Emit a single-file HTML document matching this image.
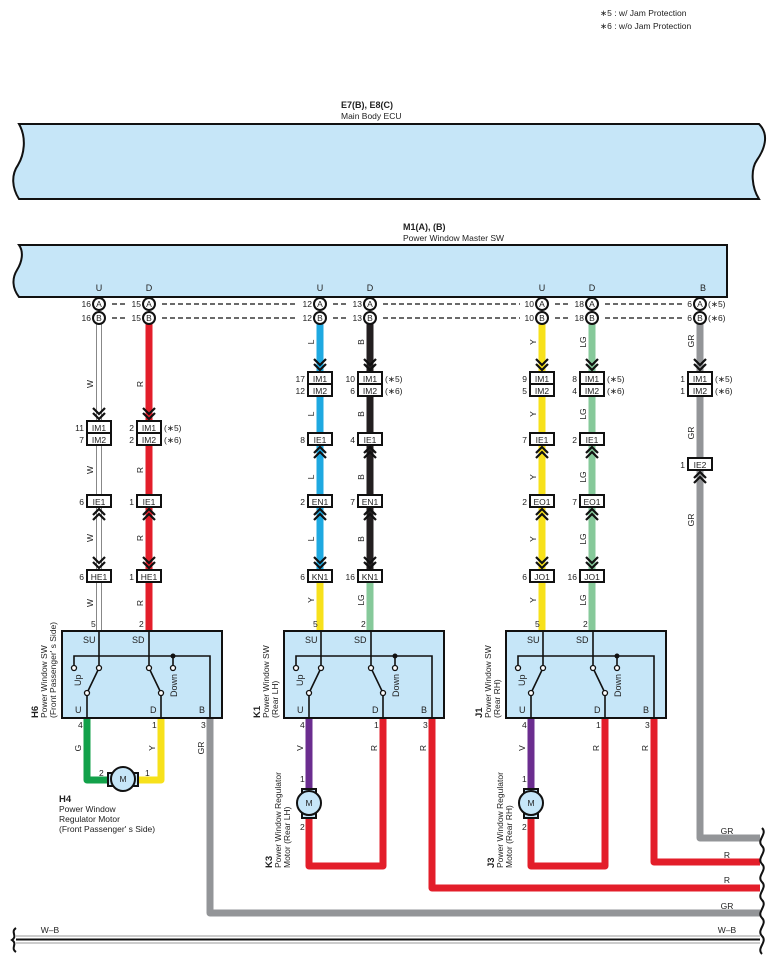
<!DOCTYPE html>
<html><head><meta charset="utf-8"><style>
body{margin:0;background:#fff}
svg{display:block;font-family:"Liberation Sans",sans-serif}
.t{font-size:9px;fill:#222}
.s{font-size:8.5px;fill:#222}
.cb{fill:#fff;stroke:#111;stroke-width:2}
.ch{fill:none;stroke:#111;stroke-width:2.2}
.ci{fill:#fff;stroke:#111;stroke-width:2}
.dash{stroke:#111;stroke-width:1.2;stroke-dasharray:5,3}
</style></head><body>
<svg width="774" height="960" viewBox="0 0 774 960" xmlns="http://www.w3.org/2000/svg">
<text x="600" y="16" class="s">∗5 : w/ Jam Protection</text>
<text x="600" y="29" class="s">∗6 : w/o Jam Protection</text>

<!-- ECU -->
<text x="341" y="108" class="t" font-weight="bold">E7(B), E8(C)</text>
<text x="341" y="119" class="s">Main Body ECU</text>
<path d="M19 124 H759 C770 135,764 150,757 160 C750 170,752 188,759 199 H19 C12 188,11 175,18 165 C24 155,27 138,19 124 Z" fill="#c6e6f8" stroke="#111" stroke-width="2"/>

<!-- Master SW -->
<text x="403" y="230" class="t" font-weight="bold">M1(A), (B)</text>
<text x="403" y="241" class="s">Power Window Master SW</text>
<path d="M19 245 H727 V297 H19 C12 288,12 278,17 270 C22 262,24 252,19 245 Z" fill="#c6e6f8" stroke="#111" stroke-width="2"/>
<g class="t" text-anchor="middle">
<text x="99" y="291">U</text><text x="149" y="291">D</text>
<text x="320" y="291">U</text><text x="370" y="291">D</text>
<text x="542" y="291">U</text><text x="592" y="291">D</text>
<text x="703" y="291">B</text>
</g>

<!-- WIRES -->
<g fill="none" stroke-linejoin="round" stroke-linecap="butt">
<path d="M99 318 V632" stroke="#888" stroke-width="6"/>
<path d="M99 318 V632" stroke="#fff" stroke-width="4"/>
<path d="M149 318 V632" stroke="#e31e2a" stroke-width="7"/>
<path d="M320 318 V576" stroke="#1ea9e1" stroke-width="7"/>
<path d="M320 576 V632" stroke="#f7e11b" stroke-width="7"/>
<path d="M370 318 V576" stroke="#231f20" stroke-width="7"/>
<path d="M370 576 V632" stroke="#86c99a" stroke-width="7"/>
<path d="M542 318 V632" stroke="#f7e11b" stroke-width="7"/>
<path d="M592 318 V632" stroke="#86c99a" stroke-width="7"/>
<path d="M700 318 V838 H760" stroke="#939598" stroke-width="7"/>
<path d="M87 718 V780 H112" stroke="#12a14a" stroke-width="7"/>
<path d="M161 718 V780 H135" stroke="#f7e11b" stroke-width="7"/>
<path d="M210 718 V913 H760" stroke="#939598" stroke-width="7"/>
<path d="M309 718 V792" stroke="#6b2d8f" stroke-width="7"/>
<path d="M309 814 V866 H383 V718" stroke="#e31e2a" stroke-width="7"/>
<path d="M432 718 V888 H760" stroke="#e31e2a" stroke-width="7"/>
<path d="M531 718 V792" stroke="#6b2d8f" stroke-width="7"/>
<path d="M531 814 V866 H605 V718" stroke="#e31e2a" stroke-width="7"/>
<path d="M654 718 V862 H760" stroke="#e31e2a" stroke-width="7"/>
</g>
<!-- W-B -->
<line x1="16" y1="936" x2="760" y2="936" stroke="#999" stroke-width="1"/>
<line x1="16" y1="939.5" x2="760" y2="939.5" stroke="#111" stroke-width="2"/>
<line x1="16" y1="943" x2="760" y2="943" stroke="#999" stroke-width="1"/>
<path d="M16 928 C10 932,18 936,12 940 C18 944,10 948,16 952" fill="none" stroke="#111" stroke-width="2"/>
<path d="M762 828 C768 834,756 840,762 846 C768 852,756 858,762 864 C768 870,756 876,762 882 C768 888,756 894,762 900 C768 906,756 912,762 918 C768 924,756 930,762 936 C768 942,756 948,762 954" fill="none" stroke="#111" stroke-width="2"/>
<g class="s" text-anchor="middle">
<text x="727" y="834">GR</text><text x="727" y="858">R</text><text x="727" y="883">R</text><text x="727" y="909">GR</text><text x="727" y="933">W–B</text><text x="50" y="933">W–B</text>
</g>

<!-- Circles & dashes -->
<g>
<line x1="112" y1="304" x2="127" y2="304" class="dash"/><line x1="112" y1="318" x2="127" y2="318" class="dash"/>
<line x1="162" y1="304" x2="298" y2="304" class="dash"/><line x1="162" y1="318" x2="298" y2="318" class="dash"/>
<line x1="333" y1="304" x2="348" y2="304" class="dash"/><line x1="333" y1="318" x2="348" y2="318" class="dash"/>
<line x1="383" y1="304" x2="520" y2="304" class="dash"/><line x1="383" y1="318" x2="520" y2="318" class="dash"/>
<line x1="555" y1="304" x2="570" y2="304" class="dash"/><line x1="555" y1="318" x2="570" y2="318" class="dash"/>
<line x1="605" y1="304" x2="684" y2="304" class="dash"/><line x1="605" y1="318" x2="684" y2="318" class="dash"/>
</g>
<g class="ci">
<circle cx="99" cy="304" r="6"/><circle cx="99" cy="318" r="6"/>
<circle cx="149" cy="304" r="6"/><circle cx="149" cy="318" r="6"/>
<circle cx="320" cy="304" r="6"/><circle cx="320" cy="318" r="6"/>
<circle cx="370" cy="304" r="6"/><circle cx="370" cy="318" r="6"/>
<circle cx="542" cy="304" r="6"/><circle cx="542" cy="318" r="6"/>
<circle cx="592" cy="304" r="6"/><circle cx="592" cy="318" r="6"/>
<circle cx="700" cy="304" r="6"/><circle cx="700" cy="318" r="6"/>
</g>
<g class="s" text-anchor="middle" font-size="8">
<text x="99" y="307">A</text><text x="99" y="321">B</text>
<text x="149" y="307">A</text><text x="149" y="321">B</text>
<text x="320" y="307">A</text><text x="320" y="321">B</text>
<text x="370" y="307">A</text><text x="370" y="321">B</text>
<text x="542" y="307">A</text><text x="542" y="321">B</text>
<text x="592" y="307">A</text><text x="592" y="321">B</text>
<text x="700" y="307">A</text><text x="700" y="321">B</text>
</g>
<g class="s" text-anchor="end">
<text x="91" y="307">16</text><text x="91" y="321">16</text>
<text x="141" y="307">15</text><text x="141" y="321">15</text>
<text x="312" y="307">12</text><text x="312" y="321">12</text>
<text x="362" y="307">13</text><text x="362" y="321">13</text>
<text x="534" y="307">10</text><text x="534" y="321">10</text>
<text x="584" y="307">18</text><text x="584" y="321">18</text>
<text x="692" y="307">6</text><text x="692" y="321">6</text>
</g>
<g class="s"><text x="708" y="307">(∗5)</text><text x="708" y="321">(∗6)</text></g>

<!-- Chevrons -->
<g class="ch">
<path d="M93 408 L99 414 L105 408 M93 413 L99 419 L105 413"/>
<path d="M143 408 L149 414 L155 408 M143 413 L149 419 L155 413"/>
<path d="M314 359 L320 365 L326 359 M314 364 L320 370 L326 364"/>
<path d="M364 359 L370 365 L376 359 M364 364 L370 370 L376 364"/>
<path d="M536 359 L542 365 L548 359 M536 364 L542 370 L548 364"/>
<path d="M586 359 L592 365 L598 359 M586 364 L592 370 L598 364"/>
<path d="M694 359 L700 365 L706 359 M694 364 L700 370 L706 364"/>
<path d="M93 557 L99 563 L105 557 M93 562 L99 568 L105 562"/>
<path d="M143 557 L149 563 L155 557 M143 562 L149 568 L155 562"/>
<path d="M314 557 L320 563 L326 557 M314 562 L320 568 L326 562"/>
<path d="M364 557 L370 563 L376 557 M364 562 L370 568 L376 562"/>
<path d="M536 557 L542 563 L548 557 M536 562 L542 568 L548 562"/>
<path d="M586 557 L592 563 L598 557 M586 562 L592 568 L598 562"/>
<path d="M93 515 L99 509 L105 515 M93 520 L99 514 L105 520"/>
<path d="M143 515 L149 509 L155 515 M143 520 L149 514 L155 520"/>
<path d="M314 453 L320 447 L326 453 M314 458 L320 452 L326 458"/>
<path d="M364 453 L370 447 L376 453 M364 458 L370 452 L376 458"/>
<path d="M536 453 L542 447 L548 453 M536 458 L542 452 L548 458"/>
<path d="M586 453 L592 447 L598 453 M586 458 L592 452 L598 458"/>
<path d="M314 515 L320 509 L326 515 M314 520 L320 514 L326 520"/>
<path d="M364 515 L370 509 L376 515 M364 520 L370 514 L376 520"/>
<path d="M536 515 L542 509 L548 515 M536 520 L542 514 L548 520"/>
<path d="M586 515 L592 509 L598 515 M586 520 L592 514 L598 520"/>
<path d="M694 478 L700 472 L706 478 M694 483 L700 477 L706 483"/>
</g>

<!-- connector boxes -->
<g class="cb">
<rect x="87" y="421" width="24" height="12"/><rect x="87" y="433" width="24" height="12"/>
<rect x="137" y="421" width="24" height="12"/><rect x="137" y="433" width="24" height="12"/>
<rect x="87" y="495" width="24" height="12"/><rect x="137" y="495" width="24" height="12"/>
<rect x="87" y="570" width="24" height="12"/><rect x="137" y="570" width="24" height="12"/>
<rect x="308" y="372" width="24" height="12"/><rect x="308" y="384" width="24" height="12"/>
<rect x="358" y="372" width="24" height="12"/><rect x="358" y="384" width="24" height="12"/>
<rect x="308" y="433" width="24" height="12"/><rect x="358" y="433" width="24" height="12"/>
<rect x="308" y="495" width="24" height="12"/><rect x="358" y="495" width="24" height="12"/>
<rect x="308" y="570" width="24" height="12"/><rect x="358" y="570" width="24" height="12"/>
<rect x="530" y="372" width="24" height="12"/><rect x="530" y="384" width="24" height="12"/>
<rect x="580" y="372" width="24" height="12"/><rect x="580" y="384" width="24" height="12"/>
<rect x="530" y="433" width="24" height="12"/><rect x="580" y="433" width="24" height="12"/>
<rect x="530" y="495" width="24" height="12"/><rect x="580" y="495" width="24" height="12"/>
<rect x="530" y="570" width="24" height="12"/><rect x="580" y="570" width="24" height="12"/>
<rect x="688" y="372" width="24" height="12"/><rect x="688" y="384" width="24" height="12"/>
<rect x="688" y="458" width="24" height="12"/>
</g>
<g class="s" text-anchor="middle">
<text x="99" y="431">IM1</text><text x="99" y="443">IM2</text><text x="149" y="431">IM1</text><text x="149" y="443">IM2</text>
<text x="99" y="505">IE1</text><text x="149" y="505">IE1</text><text x="99" y="580">HE1</text><text x="149" y="580">HE1</text>
<text x="320" y="382">IM1</text><text x="320" y="394">IM2</text><text x="370" y="382">IM1</text><text x="370" y="394">IM2</text>
<text x="320" y="443">IE1</text><text x="370" y="443">IE1</text><text x="320" y="505">EN1</text><text x="370" y="505">EN1</text>
<text x="320" y="580">KN1</text><text x="370" y="580">KN1</text>
<text x="542" y="382">IM1</text><text x="542" y="394">IM2</text><text x="592" y="382">IM1</text><text x="592" y="394">IM2</text>
<text x="542" y="443">IE1</text><text x="592" y="443">IE1</text><text x="542" y="505">EO1</text><text x="592" y="505">EO1</text>
<text x="542" y="580">JO1</text><text x="592" y="580">JO1</text>
<text x="700" y="382">IM1</text><text x="700" y="394">IM2</text><text x="700" y="468">IE2</text>
</g>
<g class="s" text-anchor="end">
<text x="84" y="431">11</text><text x="84" y="443">7</text><text x="134" y="431">2</text><text x="134" y="443">2</text>
<text x="84" y="505">6</text><text x="134" y="505">1</text><text x="84" y="580">6</text><text x="134" y="580">1</text>
<text x="305" y="382">17</text><text x="305" y="394">12</text><text x="355" y="382">10</text><text x="355" y="394">6</text>
<text x="305" y="443">8</text><text x="355" y="443">4</text><text x="305" y="505">2</text><text x="355" y="505">7</text>
<text x="305" y="580">6</text><text x="355" y="580">16</text>
<text x="527" y="382">9</text><text x="527" y="394">5</text><text x="577" y="382">8</text><text x="577" y="394">4</text>
<text x="527" y="443">7</text><text x="577" y="443">2</text><text x="527" y="505">2</text><text x="577" y="505">7</text>
<text x="527" y="580">6</text><text x="577" y="580">16</text>
<text x="685" y="382">1</text><text x="685" y="394">1</text><text x="685" y="468">1</text>
</g>
<g class="s">
<text x="164" y="431">(∗5)</text><text x="164" y="443">(∗6)</text>
<text x="385" y="382">(∗5)</text><text x="385" y="394">(∗6)</text>
<text x="607" y="382">(∗5)</text><text x="607" y="394">(∗6)</text>
<text x="715" y="382">(∗5)</text><text x="715" y="394">(∗6)</text>
</g>

<!-- wire labels rotated -->
<g class="s" text-anchor="middle">
<text transform="translate(93,384) rotate(-90)">W</text><text transform="translate(143,384) rotate(-90)">R</text>
<text transform="translate(93,470) rotate(-90)">W</text><text transform="translate(143,470) rotate(-90)">R</text>
<text transform="translate(93,538) rotate(-90)">W</text><text transform="translate(143,538) rotate(-90)">R</text>
<text transform="translate(93,603) rotate(-90)">W</text><text transform="translate(143,603) rotate(-90)">R</text>
<text transform="translate(314,342) rotate(-90)">L</text><text transform="translate(364,342) rotate(-90)">B</text>
<text transform="translate(314,414) rotate(-90)">L</text><text transform="translate(364,414) rotate(-90)">B</text>
<text transform="translate(314,477) rotate(-90)">L</text><text transform="translate(364,477) rotate(-90)">B</text>
<text transform="translate(314,539) rotate(-90)">L</text><text transform="translate(364,539) rotate(-90)">B</text>
<text transform="translate(314,600) rotate(-90)">Y</text><text transform="translate(364,600) rotate(-90)">LG</text>
<text transform="translate(536,342) rotate(-90)">Y</text><text transform="translate(586,342) rotate(-90)">LG</text>
<text transform="translate(536,414) rotate(-90)">Y</text><text transform="translate(586,414) rotate(-90)">LG</text>
<text transform="translate(536,477) rotate(-90)">Y</text><text transform="translate(586,477) rotate(-90)">LG</text>
<text transform="translate(536,539) rotate(-90)">Y</text><text transform="translate(586,539) rotate(-90)">LG</text>
<text transform="translate(536,600) rotate(-90)">Y</text><text transform="translate(586,600) rotate(-90)">LG</text>
<text transform="translate(694,341) rotate(-90)">GR</text><text transform="translate(694,433) rotate(-90)">GR</text>
<text transform="translate(694,520) rotate(-90)">GR</text>
<text transform="translate(81,748) rotate(-90)">G</text><text transform="translate(155,748) rotate(-90)">Y</text>
<text transform="translate(204,748) rotate(-90)">GR</text>
<text transform="translate(303,748) rotate(-90)">V</text><text transform="translate(377,748) rotate(-90)">R</text><text transform="translate(426,748) rotate(-90)">R</text>
<text transform="translate(525,748) rotate(-90)">V</text><text transform="translate(599,748) rotate(-90)">R</text><text transform="translate(648,748) rotate(-90)">R</text>
</g>

<!-- switch boxes -->
<g id="sw">
<rect x="62" y="631" width="160" height="87" fill="#c6e6f8" stroke="#111" stroke-width="2"/>
<g fill="none" stroke="#111" stroke-width="1.6">
<path d="M99 631 V668 M149 631 V668 M74 668 V656 H210 V718 M173 656 V668 M87 693 V718 M161 693 V718 M87 693 L99 668 M149 668 L161 693"/>
</g>
<circle cx="173" cy="656" r="2.5" fill="#111"/>
<g fill="#fff" stroke="#111" stroke-width="1.3">
<circle cx="74" cy="668" r="2.5"/><circle cx="99" cy="668" r="2.5"/><circle cx="87" cy="693" r="2.5"/>
<circle cx="149" cy="668" r="2.5"/><circle cx="173" cy="668" r="2.5"/><circle cx="161" cy="693" r="2.5"/>
</g>
<g class="t" font-size="9.5">
<text x="83" y="643">SU</text><text x="132" y="643">SD</text>
<text x="75" y="713">U</text><text x="150" y="713">D</text><text x="199" y="713">B</text>
<text transform="translate(81,686) rotate(-90)">Up</text>
<text transform="translate(177,697) rotate(-90)">Down</text>
</g>
<g class="s"><text x="91" y="627">5</text><text x="139" y="627">2</text><text x="78" y="728">4</text><text x="152" y="728">1</text><text x="201" y="728">3</text></g>
</g>
<use href="#sw" transform="translate(222,0)"/>
<use href="#sw" transform="translate(444,0)"/>

<!-- component labels -->
<g class="s">
<text transform="translate(38,718) rotate(-90)" font-weight="bold" font-size="9.5">H6</text>
<text transform="translate(47,718) rotate(-90)">Power Window SW</text>
<text transform="translate(56,718) rotate(-90)">(Front Passenger' s Side)</text>
<text transform="translate(260,718) rotate(-90)" font-weight="bold" font-size="9.5">K1</text>
<text transform="translate(269,718) rotate(-90)">Power Window SW</text>
<text transform="translate(278,718) rotate(-90)">(Rear LH)</text>
<text transform="translate(482,718) rotate(-90)" font-weight="bold" font-size="9.5">J1</text>
<text transform="translate(491,718) rotate(-90)">Power Window SW</text>
<text transform="translate(500,718) rotate(-90)">(Rear RH)</text>
<text x="59" y="802" font-weight="bold" font-size="9.5">H4</text>
<text x="59" y="812">Power Window</text>
<text x="59" y="822">Regulator Motor</text>
<text x="59" y="832">(Front Passenger' s Side)</text>
<text transform="translate(272,868) rotate(-90)" font-weight="bold" font-size="9.5">K3</text>
<text transform="translate(281,868) rotate(-90)">Power Window Regulator</text>
<text transform="translate(290,868) rotate(-90)">Motor (Rear LH)</text>
<text transform="translate(494,868) rotate(-90)" font-weight="bold" font-size="9.5">J3</text>
<text transform="translate(503,868) rotate(-90)">Power Window Regulator</text>
<text transform="translate(512,868) rotate(-90)">Motor (Rear RH)</text>
<text x="99" y="776">2</text><text x="145" y="776">1</text>
<text x="300" y="782">1</text><text x="300" y="830">2</text>
<text x="522" y="782">1</text><text x="522" y="830">2</text>
</g>

<!-- motors -->
<g stroke="#111" stroke-width="2">
<rect x="108" y="773" width="6" height="13" fill="#c6e6f8"/><rect x="132" y="773" width="6" height="13" fill="#c6e6f8"/>
<circle cx="123" cy="779" r="12" fill="#c6e6f8"/>
<rect x="302" y="789" width="14" height="6" fill="#c6e6f8"/><rect x="302" y="812" width="14" height="6" fill="#c6e6f8"/>
<circle cx="309" cy="803" r="12" fill="#c6e6f8"/>
<rect x="524" y="789" width="14" height="6" fill="#c6e6f8"/><rect x="524" y="812" width="14" height="6" fill="#c6e6f8"/>
<circle cx="531" cy="803" r="12" fill="#c6e6f8"/>
</g>
<g class="s" text-anchor="middle"><text x="123" y="782">M</text><text x="309" y="806">M</text><text x="531" y="806">M</text></g>
</svg>
</body></html>
